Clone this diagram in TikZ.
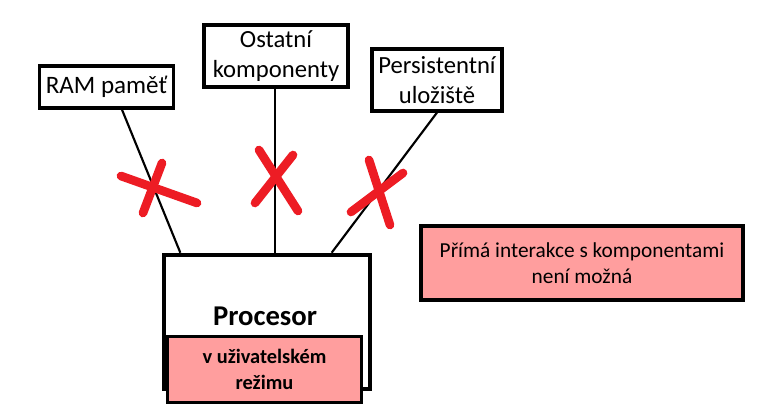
\documentclass[tikz,border=0pt]{standalone}
\usepackage{fontspec}
\setmainfont{Carlito}
\usetikzlibrary{calc,positioning}
\definecolor{ruzova}{RGB}{255,158,158}
\definecolor{cervena}{RGB}{237,28,36}

\begin{document}
\begin{tikzpicture}[x=0.75pt,y=-0.75pt,
    box/.style={draw, line width=2.4pt, align=center, inner sep=0pt, font=\fontsize{18.5}{22.5}\selectfont},
    spoj/.style={line width=1.6pt},
    krizek/.style={cervena, line width=6.5pt, line cap=round}]

    \useasboundingbox (0,0) rectangle (765,417);

    \node[box, minimum width=101pt, minimum height=31.5pt, font=\fontsize{18.8}{22}\selectfont] (ram) at (106.5,87) {RAM paměť};
    \node[box, minimum width=108pt, minimum height=46.5pt] (ostatni) at (276,56) {Ostatní\\komponenty};
    \node[box, minimum width=97.5pt, minimum height=46.5pt] (pers) at (437,80) {Persistentní\\uložiště};

    \node[box, line width=3.4pt, minimum width=154.5pt, minimum height=100.5pt] (proc) at (267,322) {};
    \node[font=\bfseries\fontsize{21.5}{25}\selectfont] (proctext) at (265,316) {Procesor};
    \node[box, fill=ruzova, minimum width=146pt, minimum height=49.5pt, font=\bfseries\fontsize{15.3}{19}\selectfont] (rezim) at (264.5,369.5) {v uživatelském\\režimu};

    \node[box, fill=ruzova, minimum width=241.5pt, minimum height=55.5pt, font=\fontsize{16}{19.5}\selectfont] (info) at (582,263) {Přímá interakce s komponentami\\není možná};

    \draw[spoj] ([xshift=11.6pt]ram.south) -- ([xshift=-65pt]proc.north);
    \draw[spoj] ([xshift=-0.75pt]ostatni.south) -- ([xshift=6pt]proc.north);
    \draw[spoj] (pers.south) -- ([xshift=48.5pt]proc.north);

    % preskrtnute spoje
    \draw[krizek] (121,176) -- (197,203);
    \draw[krizek] (162,163) -- (143,213);
    \draw[krizek] (259,150) -- (298,211);
    \draw[krizek] (293,155) -- (255,203);
    \draw[krizek] (369,160) -- (390,225);
    \draw[krizek] (403,173) -- (351,212);

\end{tikzpicture}
\end{document}
